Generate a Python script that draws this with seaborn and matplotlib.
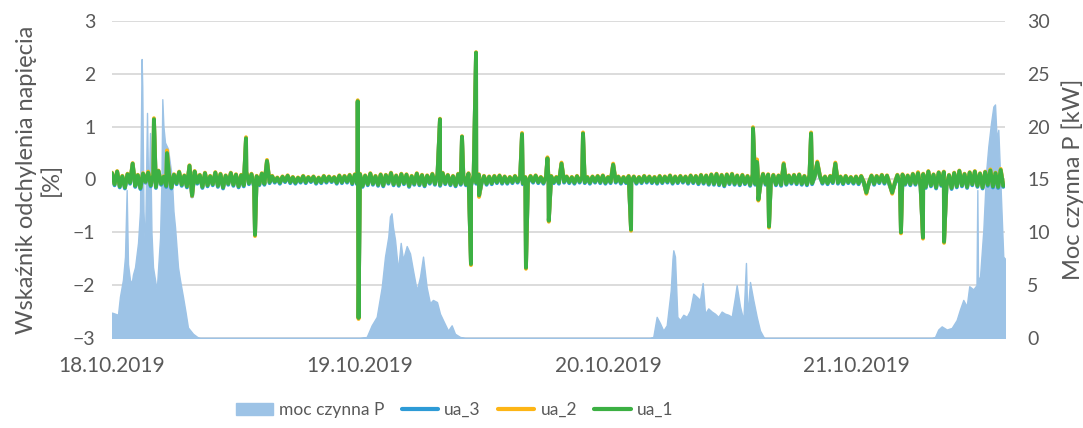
import pandas as pd
import matplotlib.pyplot as plt
import seaborn as sns
from matplotlib.patches import Patch
from matplotlib.lines import Line2D

sns.set_theme(style="white")
plt.rcParams["font.family"] = ["Lato", "DejaVu Sans"]

TEXT = "#595959"
AREA_COLOR = "#9DC3E6"
LINE_COLORS = {"ua_3": "#2E9BD6", "ua_2": "#FDB515", "ua_1": "#3CB043"}

DAY_LABELS = ["18.10.2019", "19.10.2019", "20.10.2019", "21.10.2019"]
DAY_HOURS = [0, 24, 48, 72]

# moc czynna P [kW] (godziny od 18.10.2019)
POWER_HOURS = [
    0.00, 0.29, 0.58, 0.77, 1.06, 1.26, 1.42, 1.55, 1.74, 1.91, 2.03, 2.23, 2.52, 2.71,
    2.87, 2.93, 3.05, 3.19, 3.39, 3.53, 3.68, 3.82, 3.97, 4.33, 4.65, 4.79, 4.87, 4.98,
    5.13, 5.42, 5.61, 5.78, 5.95, 6.10, 6.39, 6.58, 6.87, 7.11, 7.35, 7.84, 8.32, 8.52,
    24.00, 24.65, 25.13, 25.62, 26.10, 26.42, 26.74, 26.90, 27.05, 27.19, 27.39, 27.68,
    27.94, 28.16, 28.52, 28.84, 29.13, 29.49, 29.81, 30.10, 30.45, 30.77, 31.06, 31.45,
    31.74, 32.03, 32.52, 32.87, 33.19, 33.68, 34.16,
    52.06, 52.38, 52.71, 53.03, 53.35, 53.68, 54.07, 54.24, 54.32, 54.48, 54.71, 54.97,
    55.29, 55.62, 55.94, 56.25, 56.58, 56.90, 57.16, 57.39, 57.70, 58.04, 58.35, 58.67,
    59.00, 59.32, 59.64, 59.97, 60.29, 60.45, 60.77, 61.10, 61.35, 61.48, 61.74, 62.06,
    62.39, 62.71, 63.10,
    79.35, 79.65, 79.96, 80.29, 80.78, 81.26, 81.74, 82.06, 82.38, 82.71, 82.96, 83.35,
    83.66, 83.74, 83.81, 84.00, 84.32, 84.58, 84.80, 85.06, 85.29, 85.45, 85.61, 85.77,
    86.00, 86.25, 86.42,
]
POWER_KW = [
    2.4, 2.3, 2.2, 3.9, 5.5, 7.7, 14.0, 7.0, 5.5, 5.2, 6.0, 6.7, 9.0, 12.0,
    26.4, 23.8, 12.0, 8.3, 21.3, 12.0, 19.4, 10.0, 6.7, 4.5, 9.5, 15.0, 22.6, 20.0,
    18.5, 17.9, 16.5, 15.3, 12.0, 10.5, 6.7, 5.5, 3.9, 2.5, 1.0, 0.4, 0.05, 0.0,
    0.0, 0.1, 1.2, 2.0, 4.8, 7.7, 9.6, 11.5, 11.8, 10.5, 9.3, 6.4,
    9.0, 7.4, 8.7, 8.0, 6.4, 4.5, 5.8, 7.7, 4.8, 3.3, 3.6, 3.4,
    2.3, 1.7, 0.7, 1.2, 0.4, 0.1, 0.0,
    0.0, 0.1, 2.0, 1.4, 0.7, 1.2, 4.5, 7.5, 8.3, 7.7, 2.0, 1.7,
    2.2, 2.0, 2.6, 4.2, 3.9, 3.6, 5.2, 2.3, 2.8, 2.5, 2.3, 2.0,
    2.5, 2.3, 2.2, 2.0, 3.9, 5.0, 3.0, 1.7, 7.1, 2.0, 5.3, 3.6,
    2.0, 0.7, 0.0,
    0.0, 0.1, 0.8, 1.1, 0.8, 0.95, 1.7, 2.7, 3.6, 3.0, 4.9, 4.6,
    5.0, 14.0, 5.5, 5.8, 10.2, 15.6, 18.1, 20.3, 21.9, 22.1, 18.8, 19.7,
    14.0, 7.7, 7.5,
]

# odchylenia napiecia [0.01 %] - probki co 15 min
STEP_H = 0.25
UA1_NOISE = [
    12, -9, 15, -13, 6, -15, 10, -6, 30, -12,
    8, -16, 11, -4, 13, -11, 9, -14, 16, -8,
    5, -12, 12, -15, 9, -7, 14, -10, 7, -13,
    26, -30, 15, -6, 8, -14, 12, -11, 6, -9,
    13, -12, 10, -15, 7, -8, 12, -10, 9, -13,
    8, -11, 14, -7, 10, -12, 6, -9, 11, -8,
    35, -5, 6, -4, 3, -6, 5, -3, 7, -5,
    4, -6, 3, -4, 6, -5, 4, -3, 5, -6,
    3, -5, 6, -4, 5, -3, 4, -6, 7, -5,
    6, -4, 8, -7, 9, -8,
    10, -12, 7, -9, 11, -8, 6, -10, 9, -11,
    8, -6, 12, -9, 7, -10, 10, -7, 9, -12,
    6, -8, 11, -9, 8, -11, 7, -6, 10, -8,
    9, -10, 12, -7, 8, -9, 6, -11, 10, -8,
    7, -9, 11, -10, 8, -6, 9, -7, 6, -8,
    5, -7, 6, -5, 7, -6,
    5, -6, 4, -5, 6, -4, 5, -7, 4, -5,
    6, -4, 7, -5, 4, -6, 5, -4, 6, -5,
    4, -6, 30, -4, 5, -5, 4, -6, 6, -4,
    5, -5, 4, -6, 5, -4, 6, -5, 7, -6,
    4, -5, 28, -4, 5, -6, 4, -5, 6, -4,
    5, -6, 4, -5, 6, -4, 5, -5, 4, -6,
    6, -5, 5, -4, 7, -6, 5, -5, 6, -4,
    5, -6, 7, -5, 6, -7, 8, -6, 7, -8,
    9, -8, 10, -9, 8, -11, 9, -7, 10, -8,
    7, -9, 8, -7, 6, -10, 9, -8, 7, -9,
    10, -8, 9, -7, 8, -9, 7, -10, 29, -8,
    7, -6, 8, -7, 9, -8, 6, -9, 8, -7,
    6, 32, 7, -6, 5, -7, 6, -5, 30, -6,
    5, -7, 6, -5, 4, -6, 5, -7, 6, -5,
    -25, -6, 7, -8, 6, -5, 8, -6, 7, -9,
    -25, -7, 8, -6, 9, -8, 7, -9, 10, -8,
    12, -13, 10, -14, 15, -11, 9, -15, 13, -10,
    14, -12, 8, -16, 12, -13, 16, -11, 10, -14,
    13, -9, 15, -12, 11, -15, 14, -10, 17, -13,
    12, -14, 18, -12,
]
UA2_NOISE = [
    13, -8, 16, -12, 7, -14, 11, -5, 31, -11,
    9, -15, 12, -4, 15, -10, 10, -13, 17, -7,
    6, -11, 13, -14, 10, -6, 15, -9, 8, -12,
    27, -31, 16, -5, 9, -13, 13, -10, 7, -8,
    14, -11, 11, -14, 8, -7, 13, -9, 10, -12,
    9, -10, 15, -6, 11, -11, 7, -8, 12, -7,
    37, -4, 7, -3, 4, -5, 6, -2, 8, -4,
    5, -5, 4, -3, 7, -4, 5, -2, 6, -5,
    4, -4, 7, -3, 6, -2, 5, -5, 8, -4,
    7, -3, 9, -6, 10, -7,
    11, -11, 8, -8, 12, -7, 7, -9, 10, -10,
    9, -5, 13, -8, 8, -9, 11, -6, 10, -11,
    7, -7, 12, -8, 9, -10, 8, -5, 11, -7,
    10, -9, 13, -6, 9, -8, 7, -10, 11, -7,
    8, -8, 12, -9, 9, -5, 10, -6, 7, -7,
    6, -6, 7, -4, 8, -5,
    6, -5, 5, -4, 7, -3, 6, -6, 5, -4,
    7, -3, 8, -4, 5, -5, 6, -3, 7, -4,
    5, -5, 32, -3, 6, -4, 5, -5, 7, -3,
    6, -4, 5, -5, 6, -3, 7, -4, 8, -5,
    5, -4, 30, -3, 6, -5, 5, -4, 7, -3,
    6, -5, 5, -4, 7, -3, 6, -4, 5, -5,
    7, -4, 6, -3, 8, -5, 6, -4, 7, -3,
    6, -5, 8, -4, 7, -6, 9, -5, 8, -7,
    10, -7, 11, -8, 9, -10, 10, -6, 11, -7,
    8, -8, 9, -6, 7, -9, 10, -7, 8, -8,
    11, -7, 10, -6, 9, -8, 8, -9, 31, -7,
    8, -5, 9, -6, 10, -7, 7, -8, 9, -6,
    7, 34, 8, -5, 6, -6, 7, -4, 32, -5,
    6, -6, 7, -4, 5, -5, 6, -6, 7, -4,
    -27, -5, 8, -7, 7, -4, 9, -5, 8, -8,
    -27, -6, 9, -5, 10, -7, 8, -8, 11, -7,
    14, -12, 11, -13, 16, -10, 10, -14, 14, -9,
    15, -11, 9, -15, 13, -12, 17, -10, 11, -13,
    14, -8, 16, -11, 12, -14, 15, -9, 19, -12,
    13, -13, 20, -11,
]
UA3_NOISE = [
    11, -11, 14, -15, 5, -17, 9, -8, 29, -14,
    7, -18, 10, -6, 12, -13, 8, -16, 15, -10,
    4, -14, 11, -17, 8, -9, 13, -12, 6, -15,
    25, -32, 14, -8, 7, -16, 11, -13, 5, -11,
    12, -14, 9, -17, 6, -10, 11, -12, 8, -15,
    7, -13, 13, -9, 9, -14, 5, -11, 10, -10,
    34, -7, 5, -6, 2, -8, 4, -5, 6, -7,
    3, -8, 2, -6, 5, -7, 3, -5, 4, -8,
    2, -7, 5, -6, 4, -5, 3, -8, 6, -7,
    5, -6, 7, -9, 8, -10,
    9, -14, 6, -11, 10, -10, 5, -12, 8, -13,
    7, -8, 11, -11, 6, -12, 9, -9, 8, -14,
    5, -10, 10, -11, 7, -13, 6, -8, 9, -10,
    8, -12, 11, -9, 7, -11, 5, -13, 9, -10,
    6, -11, 10, -12, 7, -8, 8, -9, 5, -10,
    4, -9, 5, -7, 6, -8,
    4, -8, 3, -7, 5, -6, 4, -9, 3, -7,
    5, -6, 6, -7, 3, -8, 4, -6, 5, -7,
    3, -8, 29, -6, 4, -7, 3, -8, 5, -6,
    4, -7, 3, -8, 4, -6, 5, -7, 6, -8,
    3, -7, 27, -6, 4, -8, 3, -7, 5, -6,
    4, -8, 3, -7, 5, -6, 4, -7, 3, -8,
    5, -7, 4, -6, 6, -8, 4, -7, 5, -6,
    4, -8, 6, -7, 5, -9, 7, -8, 6, -10,
    8, -10, 9, -11, 7, -13, 8, -9, 9, -10,
    6, -11, 7, -9, 5, -12, 8, -10, 6, -11,
    9, -10, 8, -9, 7, -11, 6, -12, 28, -10,
    6, -8, 7, -9, 8, -10, 5, -11, 7, -9,
    5, 31, 6, -8, 4, -9, 5, -7, 29, -8,
    4, -9, 5, -7, 3, -8, 4, -9, 5, -7,
    -24, -8, 6, -10, 5, -7, 7, -8, 6, -11,
    -24, -9, 7, -8, 8, -10, 6, -11, 9, -10,
    11, -15, 9, -16, 14, -13, 8, -17, 12, -12,
    13, -14, 7, -18, 11, -15, 15, -13, 9, -16,
    12, -11, 14, -14, 10, -17, 13, -12, 16, -15,
    11, -16, 17, -14,
]

# piki napiecia [%]: godzina, ua_1, ua_2, ua_3
SPIKE_HOURS = [4.06, 5.32, 12.97, 13.84, 23.78, 23.86, 31.74, 33.87, 34.74, 35.23,
               35.52, 39.68, 40.06, 42.14, 42.27, 45.58, 50.23, 62.03, 62.42, 62.55,
               63.58, 67.65, 76.35, 78.48, 80.52]
SPIKE_UA1 = [1.14, 0.50, 0.78, -1.05, 1.48, -2.62, 1.14, 0.81, -1.60, 2.40,
             -0.30, 0.86, -1.67, 0.40, -0.78, 0.87, -0.95, 0.97, 0.33, -0.38,
             -0.89, 0.87, -1.00, -1.10, -1.18]
SPIKE_UA2 = [1.16, 0.55, 0.80, -1.07, 1.50, -2.64, 1.15, 0.82, -1.62, 2.41,
             -0.33, 0.88, -1.69, 0.42, -0.80, 0.89, -0.97, 0.99, 0.38, -0.40,
             -0.91, 0.89, -1.02, -1.12, -1.20]
SPIKE_UA3 = [1.12, 0.48, 0.77, -1.04, 1.47, -2.60, 1.13, 0.80, -1.59, 2.39,
             -0.31, 0.85, -1.66, 0.39, -0.77, 0.86, -0.94, 0.96, 0.34, -0.37,
             -0.88, 0.86, -0.99, -1.09, -1.17]


def build_voltage_frame():
    frames = []
    for name, noise, spikes in [("ua_3", UA3_NOISE, SPIKE_UA3),
                                ("ua_2", UA2_NOISE, SPIKE_UA2),
                                ("ua_1", UA1_NOISE, SPIKE_UA1)]:
        hours = [i * STEP_H for i in range(len(noise))] + SPIKE_HOURS
        values = [v / 100 for v in noise] + spikes
        frames.append(pd.DataFrame({"hour": hours, "value": values, "series": name}))
    return pd.concat(frames, ignore_index=True).sort_values(["series", "hour"])


fig = plt.figure(figsize=(10.83, 4.28), dpi=100)
ax = fig.add_axes([0.1034, 0.2103, 0.8246, 0.7407])
ax2 = ax.twinx()
ax.set_zorder(2)
ax2.set_zorder(1)
ax.patch.set_visible(False)

# obszar mocy (prawa os)
ax2.fill_between(POWER_HOURS, POWER_KW, color=AREA_COLOR, edgecolor=AREA_COLOR,
                 linewidth=1.0, zorder=2)
ax2.set_ylim(0, 30)
ax2.set_yticks(range(0, 31, 5))
ax2.grid(axis="y", color="#D9D9D9", linewidth=1.3)
ax2.set_axisbelow(True)

# linie napiec (lewa os)
df = build_voltage_frame()
sns.lineplot(data=df, x="hour", y="value", hue="series",
             hue_order=["ua_3", "ua_2", "ua_1"], palette=LINE_COLORS,
             estimator=None, linewidth=2.8, legend=False, ax=ax)
ax.set_ylim(-3, 3)
ax.set_yticks(range(-3, 4))
ax.set_xlim(0, 86.42)
ax.set_xticks(DAY_HOURS)
ax.set_xticklabels(DAY_LABELS)

for a in (ax, ax2):
    for s in a.spines.values():
        s.set_visible(False)
    a.tick_params(length=0, labelsize=14, labelcolor=TEXT)
ax.tick_params(axis="y", pad=12)
ax2.tick_params(axis="y", pad=16)
ax.tick_params(axis="x", pad=13, labelsize=15)

ax.set_xlabel("")
ax.set_ylabel("Wskaźnik odchylenia napięcia\n[%]", fontsize=17, color=TEXT,
              linespacing=1.15, labelpad=8)
ax2.set_ylabel("Moc czynna P [kW]", fontsize=17, color=TEXT, labelpad=8)

handles = [Patch(color=AREA_COLOR, label="moc czynna P")] + [
    Line2D([], [], color=LINE_COLORS[k], linewidth=3, label=k) for k in ["ua_3", "ua_2", "ua_1"]
]
fig.legend(handles=handles, loc="center", bbox_to_anchor=(0.42, 0.042), ncol=4,
           frameon=False, fontsize=12.5, labelcolor=TEXT, handlelength=2.1,
           columnspacing=1.0, handletextpad=0.35)

fig.savefig("out.png", dpi=100)
